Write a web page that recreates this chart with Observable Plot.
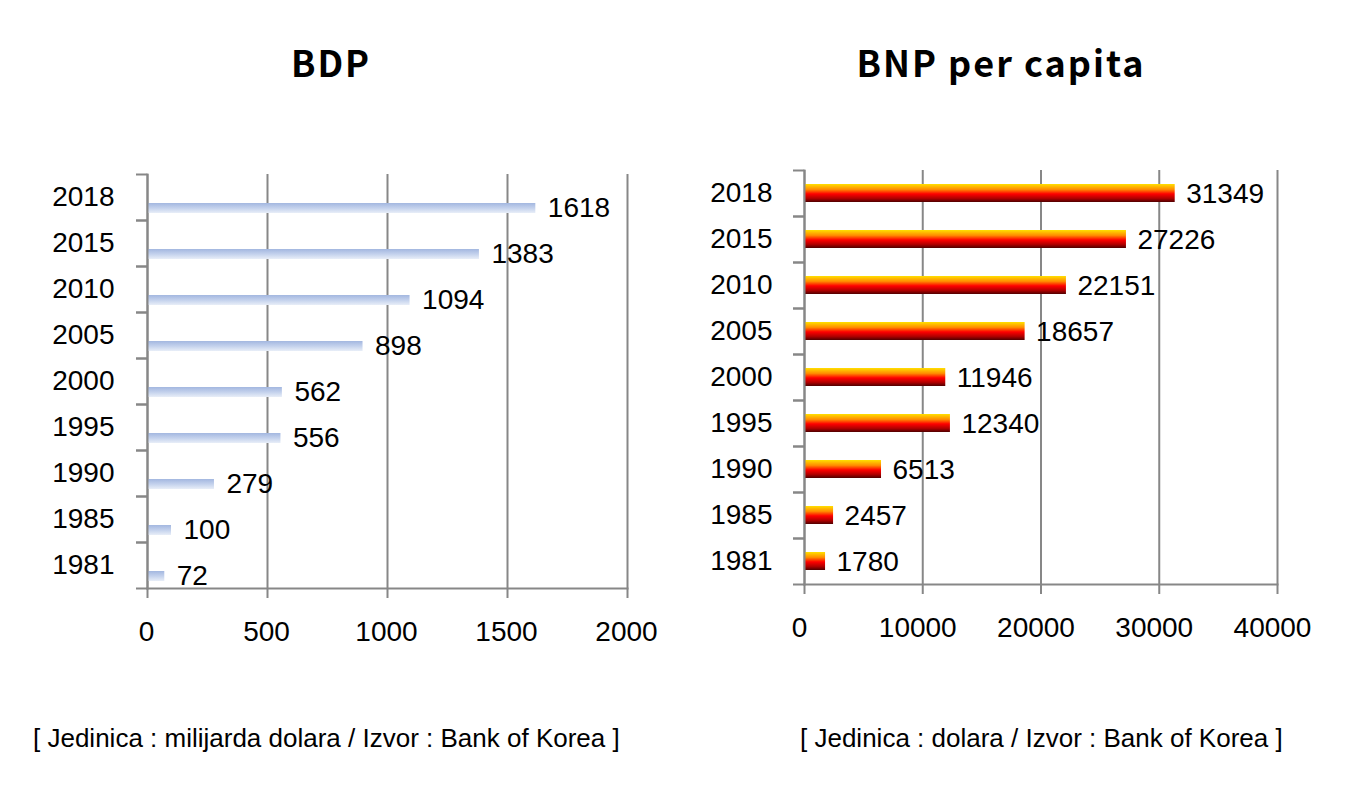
<!DOCTYPE html>
<html><head><meta charset="utf-8">
<script src="https://cdn.jsdelivr.net/npm/d3@7"></script>
<script src="https://cdn.jsdelivr.net/npm/@observablehq/plot@0.6"></script>
<style>
body{margin:0;background:#fff;}
#wrap{position:relative;width:1359px;height:801px;overflow:hidden;font-family:"Liberation Sans",Arial,sans-serif;color:#000;}
.title{position:absolute;width:600px;font-family:"Noto Sans CJK KR","Noto Sans",sans-serif;font-weight:bold;font-size:36px;line-height:36px;letter-spacing:2px;text-align:center;}
.cap{position:absolute;font-size:26px;line-height:26px;white-space:nowrap;}
.chart{position:absolute;top:150px;}
</style></head><body>
<div id="wrap">
  <div class="title" style="left:31px;top:43px;">BDP</div>
  <div class="title" style="left:701px;top:43px;">BNP per capita</div>
  <div class="chart" id="left" style="left:0px;"></div>
  <div class="chart" id="right" style="left:680px;"></div>
  <div class="cap" style="left:33px;top:725px;">[ Jedinica : milijarda dolara / Izvor : Bank of Korea ]</div>
  <div class="cap" style="left:800px;top:725px;">[ Jedinica : dolara / Izvor : Bank of Korea ]</div>
</div>
<script>
const years = ["2018","2015","2010","2005","2000","1995","1990","1985","1981"];
const gdp = [1618,1383,1094,898,562,556,279,100,72];
const gni = [31349,27226,22151,18657,11946,12340,6513,2457,1780];
const gdpTicks = [0,500,1000,1500,2000];
const gniTicks = [0,10000,20000,30000,40000];

const gray = "#878787";
const font = "Liberation Sans, Arial, sans-serif";

function gradient(id, stops) {
  return () => {
    const ns = "http://www.w3.org/2000/svg";
    const defs = document.createElementNS(ns, "defs");
    const lg = document.createElementNS(ns, "linearGradient");
    lg.setAttribute("id", id);
    lg.setAttribute("x1", "0"); lg.setAttribute("y1", "0");
    lg.setAttribute("x2", "0"); lg.setAttribute("y2", "1");
    for (const [o, c] of stops) {
      const s = document.createElementNS(ns, "stop");
      s.setAttribute("offset", o);
      s.setAttribute("stop-color", c);
      lg.appendChild(s);
    }
    defs.appendChild(lg);
    return defs;
  };
}

function chart({values, ticks, max, width, ml, mr, mt, mb, gradId, stops, insetTop, insetBottom, dx, dy, labelPad, tickDx}) {
  return Plot.plot({
    width, height: 520,
    marginLeft: ml, marginRight: mr, marginTop: mt, marginBottom: mb,
    style: {fontFamily: font, fontSize: "28px", color: "#000", background: "transparent", overflow: "visible"},
    x: {domain: [0, max]},
    y: {domain: years, padding: 0},
    marks: [
      gradient(gradId, stops),
      Plot.gridX(ticks, {stroke: gray, strokeOpacity: 1, strokeWidth: 2}),
      Plot.barX(values, {x: d => d, y: (d, i) => years[i], fill: `url(#${gradId})`, insetTop, insetBottom}),
      Plot.text(values, {x: d => d, y: (d, i) => years[i], text: d => String(d), textAnchor: "start", dx, dy, fontSize: 28, fill: "#000"}),
      Plot.frame({anchor: "left", stroke: gray, strokeWidth: 2}),
      Plot.frame({anchor: "bottom", stroke: gray, strokeWidth: 2}),
      Plot.axisX(ticks, {tickSize: 10, text: null, stroke: gray, strokeWidth: 2, label: null}),
      Plot.axisX(ticks, {tickSize: 0, tickPadding: 33, dx: tickDx, fill: "#000", fontSize: 28, label: null, tickFormat: d => String(d)}),
      Plot.axisY({tickSize: 0, tickPadding: labelPad, label: null, fontSize: 28, fill: "#000"}),
      Plot.axisY({tickSize: 11, dy: -23, text: null, label: null, stroke: gray, strokeWidth: 2}),
      Plot.axisY({tickSize: 11, dy: 23, text: null, label: null, stroke: gray, strokeWidth: 2})
    ]
  });
}

document.getElementById("left").appendChild(chart({
  values: gdp, ticks: gdpTicks, max: 2000, width: 680,
  ml: 147, mr: 53, mt: 24, mb: 82,
  gradId: "gdpGrad",
  stops: [[0, "#a3b7e0"], [0.5, "#c3d1ec"], [1, "#e8eef8"]],
  insetTop: 29, insetBottom: 7, dx: 12, dy: 11, labelPad: 33, tickDx: -1
}));

document.getElementById("right").appendChild(chart({
  values: gni, ticks: gniTicks, max: 40000, width: 679,
  ml: 124, mr: 82, mt: 20, mb: 86,
  gradId: "gniGrad",
  stops: [[0, "#ffe000"], [0.3, "#ff8c00"], [0.55, "#ff0000"], [0.8, "#b00000"], [1, "#500000"]],
  insetTop: 14, insetBottom: 14, dx: 11, dy: 1, labelPad: 32, tickDx: -5
}));
</script>
</body></html>
